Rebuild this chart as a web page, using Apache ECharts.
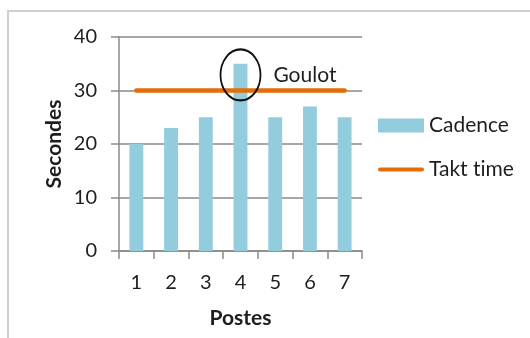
<!DOCTYPE html>
<html>
<head>
<meta charset="utf-8">
<script src="https://cdn.jsdelivr.net/npm/echarts@6/dist/echarts.min.js"></script>
<style>
  html, body { margin: 0; padding: 0; background: #fff; }
  #chart { width: 530px; height: 338px; }
</style>
</head>
<body>
<div id="chart"></div>
<script>
// Cycle time per workstation versus takt time
const postes = ['1', '2', '3', '4', '5', '6', '7'];
const cadence = [20, 23, 25, 35, 25, 27, 25];
const taktTime = [30, 30, 30, 30, 30, 30, 30];
const yTicks = { min: 0, max: 40, interval: 10 };
// Bottleneck annotation: station and the value at the ellipse centre
const goulotPoste = '4';
const goulotCentre = 32.9;

const FONT = 'Lato, "Open Sans", sans-serif';
const TEXT = '#1e1e1e';
const GRID = '#8a8a8a';
const ORANGE = '#E46C0A';

const chart = echarts.init(document.getElementById('chart'), null, { renderer: 'canvas' });

chart.setOption({
  animation: false,
  backgroundColor: '#fff',
  textStyle: { fontFamily: FONT },
  grid: { left: 119, top: 37, width: 243, height: 214, containLabel: false },
  graphic: [{
    type: 'polyline',
    shape: { points: [[8, 338], [8, 11], [530, 11]] },
    style: { stroke: '#cfcfcf', lineWidth: 2, fill: null },
    silent: true
  }],
  legend: {
    orient: 'vertical',
    left: 378,
    top: 115,
    padding: 0,
    itemWidth: 46,
    itemHeight: 14,
    itemGap: 23,
    // a zero-width non-joiner keeps "ti" from turning into a ligature
    formatter: (name) => name.replace('ti', 't\u200Ci'),
    textStyle: { fontSize: 21, color: TEXT, fontFamily: FONT },
    data: [
      { name: 'Cadence', icon: 'rect' },
      { name: 'Takt time', icon: 'path://M2,0 L44,0 A2,2 0 0 1 44,4 L2,4 A2,2 0 0 1 2,0 Z' }
    ]
  },
  xAxis: {
    type: 'category',
    data: postes,
    name: 'Postes',
    nameLocation: 'middle',
    nameGap: 57,
    nameTextStyle: { fontSize: 21, fontWeight: 'bold', color: TEXT, fontFamily: FONT },
    axisLine: { show: true, lineStyle: { color: GRID, width: 1.5 } },
    axisTick: { show: true, length: 8, inside: false, lineStyle: { color: GRID, width: 1.5 } },
    axisLabel: { fontSize: 20, color: TEXT, margin: 22, fontFamily: FONT },
    splitLine: { show: false }
  },
  yAxis: {
    type: 'value',
    min: yTicks.min,
    max: yTicks.max,
    interval: yTicks.interval,
    name: 'Secondes',
    nameLocation: 'middle',
    nameGap: 54,
    nameRotate: 90,
    nameTextStyle: { fontSize: 21, fontWeight: 'bold', color: TEXT, fontFamily: FONT },
    axisLine: { show: true, lineStyle: { color: GRID, width: 1.5 } },
    axisTick: { show: true, length: 8, inside: false, lineStyle: { color: GRID, width: 1.5 } },
    axisLabel: { fontSize: 20, color: TEXT, margin: 22, fontFamily: FONT },
    splitLine: { show: true, lineStyle: { color: GRID, width: 1.5 } }
  },
  series: [
    {
      name: 'Cadence',
      type: 'bar',
      data: cadence,
      barWidth: '40%',
      itemStyle: { color: '#93CDDD' },
      z: 2,
      markPoint: {
        silent: true,
        symbol: 'circle',
        symbolSize: [40, 51],
        itemStyle: { color: 'rgba(0,0,0,0)', borderColor: '#111', borderWidth: 2 },
        label: {
          show: true,
          position: 'right',
          distance: 12,
          formatter: 'Goulot',
          fontSize: 21,
          color: TEXT,
          fontFamily: FONT
        },
        data: [{ coord: [goulotPoste, goulotCentre] }]
      }
    },
    {
      name: 'Takt time',
      type: 'line',
      data: taktTime,
      symbol: 'none',
      showSymbol: false,
      lineStyle: { color: ORANGE, width: 4.5, cap: 'round' },
      itemStyle: { color: ORANGE },
      z: 3
    }
  ]
});
</script>
</body>
</html>
